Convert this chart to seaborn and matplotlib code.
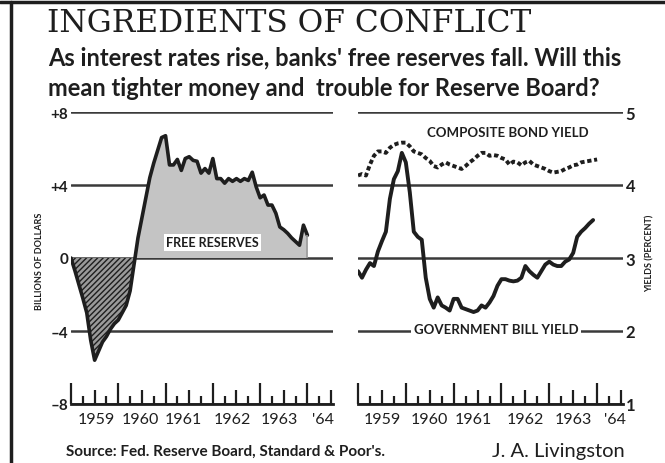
import numpy as np
import pandas as pd
import seaborn as sns
import matplotlib.pyplot as plt
from matplotlib.ticker import FixedLocator, FixedFormatter

# -------------------------------
# Dados (mensais, jan/1959 = mes 0)
# -------------------------------
free_reserves = [0.0, -0.7, -1.45, -2.2, -3.0, -4.5, -5.6, -5.1, -4.6, -4.3,
                 -3.9, -3.6, -3.4, -3.0, -2.6, -1.8, -0.35, 1.1, 2.2, 3.3,
                 4.4, 5.2, 5.9, 6.6, 6.7, 5.1, 5.1, 5.4, 4.8, 5.45,
                 5.55, 5.35, 5.3, 4.65, 4.9, 4.65, 5.45, 4.35, 4.35, 4.1,
                 4.35, 4.2, 4.35, 4.2, 4.35, 4.25, 4.7, 3.9, 3.3, 3.45,
                 2.9, 2.9, 2.45, 1.7, 1.55, 1.35, 1.1, 0.9, 0.7, 1.8, 1.25]

bond_yield = [4.13, 4.15, 4.13, 4.28, 4.40, 4.46, 4.46, 4.44, 4.51, 4.55,
              4.57, 4.58, 4.58, 4.53, 4.46, 4.44, 4.42, 4.37, 4.33, 4.26,
              4.24, 4.28, 4.31, 4.28, 4.26, 4.24, 4.22, 4.26, 4.31, 4.35,
              4.40, 4.44, 4.44, 4.40, 4.41, 4.40, 4.37, 4.35, 4.28, 4.32,
              4.31, 4.27, 4.31, 4.33, 4.28, 4.26, 4.24, 4.22, 4.19, 4.17,
              4.18, 4.19, 4.22, 4.24, 4.27, 4.28, 4.31, 4.32, 4.33, 4.34, 4.35]

bill_yield = [2.82, 2.73, 2.84, 2.93, 2.89, 3.09, 3.23, 3.36, 3.81, 4.08,
              4.19, 4.44, 4.31, 3.90, 3.36, 3.29, 3.25, 2.73, 2.44, 2.32,
              2.46, 2.35, 2.32, 2.28, 2.44, 2.44, 2.32, 2.30, 2.28, 2.26,
              2.28, 2.35, 2.32, 2.39, 2.48, 2.62, 2.71, 2.71, 2.69, 2.68,
              2.69, 2.73, 2.89, 2.82, 2.77, 2.73, 2.82, 2.91, 2.95, 2.91,
              2.89, 2.89, 2.95, 2.98, 3.07, 3.29, 3.36, 3.41, 3.47, 3.52]

year_labels = ['1959', '1960', '1961', '1962', '1963', "'64"]
left_year_pos = [6.5, 17.5, 28.5, 41, 53, 64]
right_year_pos = [6, 18, 29, 42, 54, 64.5]
left_ticks = [-8, -4, 0, 4, 8]
left_ticklabels = ['–8', '–4', '0', '+4', '+8']
right_ticks = [1, 2, 3, 4, 5]

fr = pd.DataFrame({'mes': np.arange(len(free_reserves)), 'valor': free_reserves})
bond = pd.DataFrame({'mes': np.arange(len(bond_yield)), 'valor': bond_yield})
bill = pd.DataFrame({'mes': np.arange(len(bill_yield)), 'valor': bill_yield})

sns.set_style('white')
plt.rcParams['font.family'] = ['Lato', 'DejaVu Sans']

INK = '#1e1e1e'
GRID = '#3a3a3a'

fig = plt.figure(figsize=(6.65, 4.64), dpi=100)

def style_axis(ax):
    for s in ['top', 'left', 'right']:
        ax.spines[s].set_visible(False)
    ax.spines['bottom'].set_color(INK)
    ax.spines['bottom'].set_linewidth(2)
    ax.set_xlim(0, 66.5)
    quarters = np.arange(0, 67, 3)
    ax.xaxis.set_major_locator(FixedLocator(quarters))
    ax.xaxis.set_major_formatter(FixedFormatter([''] * len(quarters)))
    ax.tick_params(axis='x', which='major', bottom=True, direction='in',
                   width=1.6, color=INK)
    for q, t in zip(quarters, ax.xaxis.get_major_ticks()):
        size = 15 if q % 12 == 0 else (10 if q % 6 == 0 else 6)
        t.tick1line.set_markersize(size)
    ax.xaxis.remove_overlapping_locs = False
    ax.set_xlabel('')
    ax.set_ylabel('')
    ax.grid(axis='y', color=GRID, linewidth=1.8)
    ax.grid(axis='x', visible=False)

# -------------------------------
# Painel esquerdo: reservas livres
# -------------------------------
ax1 = fig.add_axes([71 / 665, 59 / 464, 262 / 665, 292 / 464])
ax1.set_ylim(-8, 8)
x = fr['mes'].to_numpy()
y = fr['valor'].to_numpy()
ax1.fill_between(x, 0, y, where=y >= 0, interpolate=True, color='#c4c4c4', lw=0)
ax1.fill_between(x, 0, y, where=y <= 0, interpolate=True, facecolor='#9a9a9a',
                 edgecolor=INK, hatch='//////', lw=0)
sns.lineplot(data=fr, x='mes', y='valor', ax=ax1, color=INK, lw=2.6)
ax1.vlines(x[-1], 0, y[-1], color='#9a9a9a', lw=1.2)
style_axis(ax1)
ax1.set_yticks(left_ticks)
ax1.set_yticklabels(left_ticklabels)
ax1.tick_params(axis='y', length=0, pad=2, labelsize=11, labelcolor=INK)
for lab in ax1.get_yticklabels():
    lab.set_fontweight('bold')
ax1.xaxis.set_minor_locator(FixedLocator(left_year_pos))
ax1.xaxis.set_minor_formatter(FixedFormatter(year_labels))
ax1.tick_params(axis='x', which='minor', bottom=False, length=0, pad=6,
                labelbottom=True, labelsize=11.5, labelcolor=INK)
ax1.text(36, 0.85, 'FREE RESERVES', ha='center', va='center', fontsize=9,
         fontweight='bold', color=INK,
         bbox=dict(facecolor='white', edgecolor='none', pad=1.5))

# -------------------------------
# Painel direito: rendimentos
# -------------------------------
ax2 = fig.add_axes([358 / 665, 59 / 464, 265 / 665, 292 / 464])
ax2.set_ylim(1, 5)
sns.lineplot(data=bond, x='mes', y='valor', ax=ax2, color=INK, lw=2.8,
             linestyle=(0, (1.1, 0.7)))
sns.lineplot(data=bill, x='mes', y='valor', ax=ax2, color=INK, lw=2.8)
style_axis(ax2)
ax2.set_yticks(right_ticks)
ax2.yaxis.tick_right()
ax2.tick_params(axis='y', length=0, pad=2, labelsize=12, labelcolor=INK)
for lab in ax2.get_yticklabels():
    lab.set_fontweight('bold')
ax2.xaxis.set_minor_locator(FixedLocator(right_year_pos))
ax2.xaxis.set_minor_formatter(FixedFormatter(year_labels))
ax2.tick_params(axis='x', which='minor', bottom=False, length=0, pad=6,
                labelbottom=True, labelsize=11.5, labelcolor=INK)
ax2.text(37.7, 4.72, 'COMPOSITE BOND YIELD', ha='center', va='center',
         fontsize=9.5, fontweight='bold', color=INK)
ax2.text(34.6, 2.03, 'GOVERNMENT BILL YIELD', ha='center', va='center',
         fontsize=9.5, fontweight='bold', color=INK,
         bbox=dict(facecolor='white', edgecolor='none', pad=2))

# -------------------------------
# Textos e moldura
# -------------------------------
fig.text(40 / 665, 1 - 261 / 464, 'BILLIONS OF DOLLARS', rotation=90,
         ha='center', va='center', fontsize=6.5, fontweight='bold', color=INK)
fig.text(650 / 665, 1 - 253 / 464, 'YIELDS (PERCENT)', rotation=90,
         ha='center', va='center', fontsize=6.5, fontweight='bold', color=INK)
fig.text(47 / 665, 1 - 24 / 464, 'INGREDIENTS OF CONFLICT', ha='left', va='center',
         fontsize=22.5, family='DejaVu Serif', color=INK)
fig.text(48 / 665, 1 - 58 / 464,
         "As interest rates rise, banks' free reserves fall. Will this",
         ha='left', va='center', fontsize=17, fontweight='bold', color=INK)
fig.text(48 / 665, 1 - 88 / 464,
         'mean tighter money and  trouble for Reserve Board?',
         ha='left', va='center', fontsize=17, fontweight='bold', color=INK)
fig.text(66 / 665, 1 - 452 / 464, "Source: Fed. Reserve Board, Standard & Poor's.",
         ha='left', va='center', fontsize=11, fontweight='bold', color=INK)
fig.text(625 / 665, 1 - 452 / 464, 'J. A. Livingston',
         ha='right', va='center', fontsize=14.5, color=INK)

fig.add_artist(plt.Line2D([0, 1], [1 - 3 / 464, 1 - 3 / 464], color=INK, lw=2.5,
                          transform=fig.transFigure))
fig.add_artist(plt.Line2D([11 / 665, 11 / 665], [0, 1 - 3 / 464], color=INK, lw=2.5,
                          transform=fig.transFigure))

fig.savefig('out.png', dpi=100)
